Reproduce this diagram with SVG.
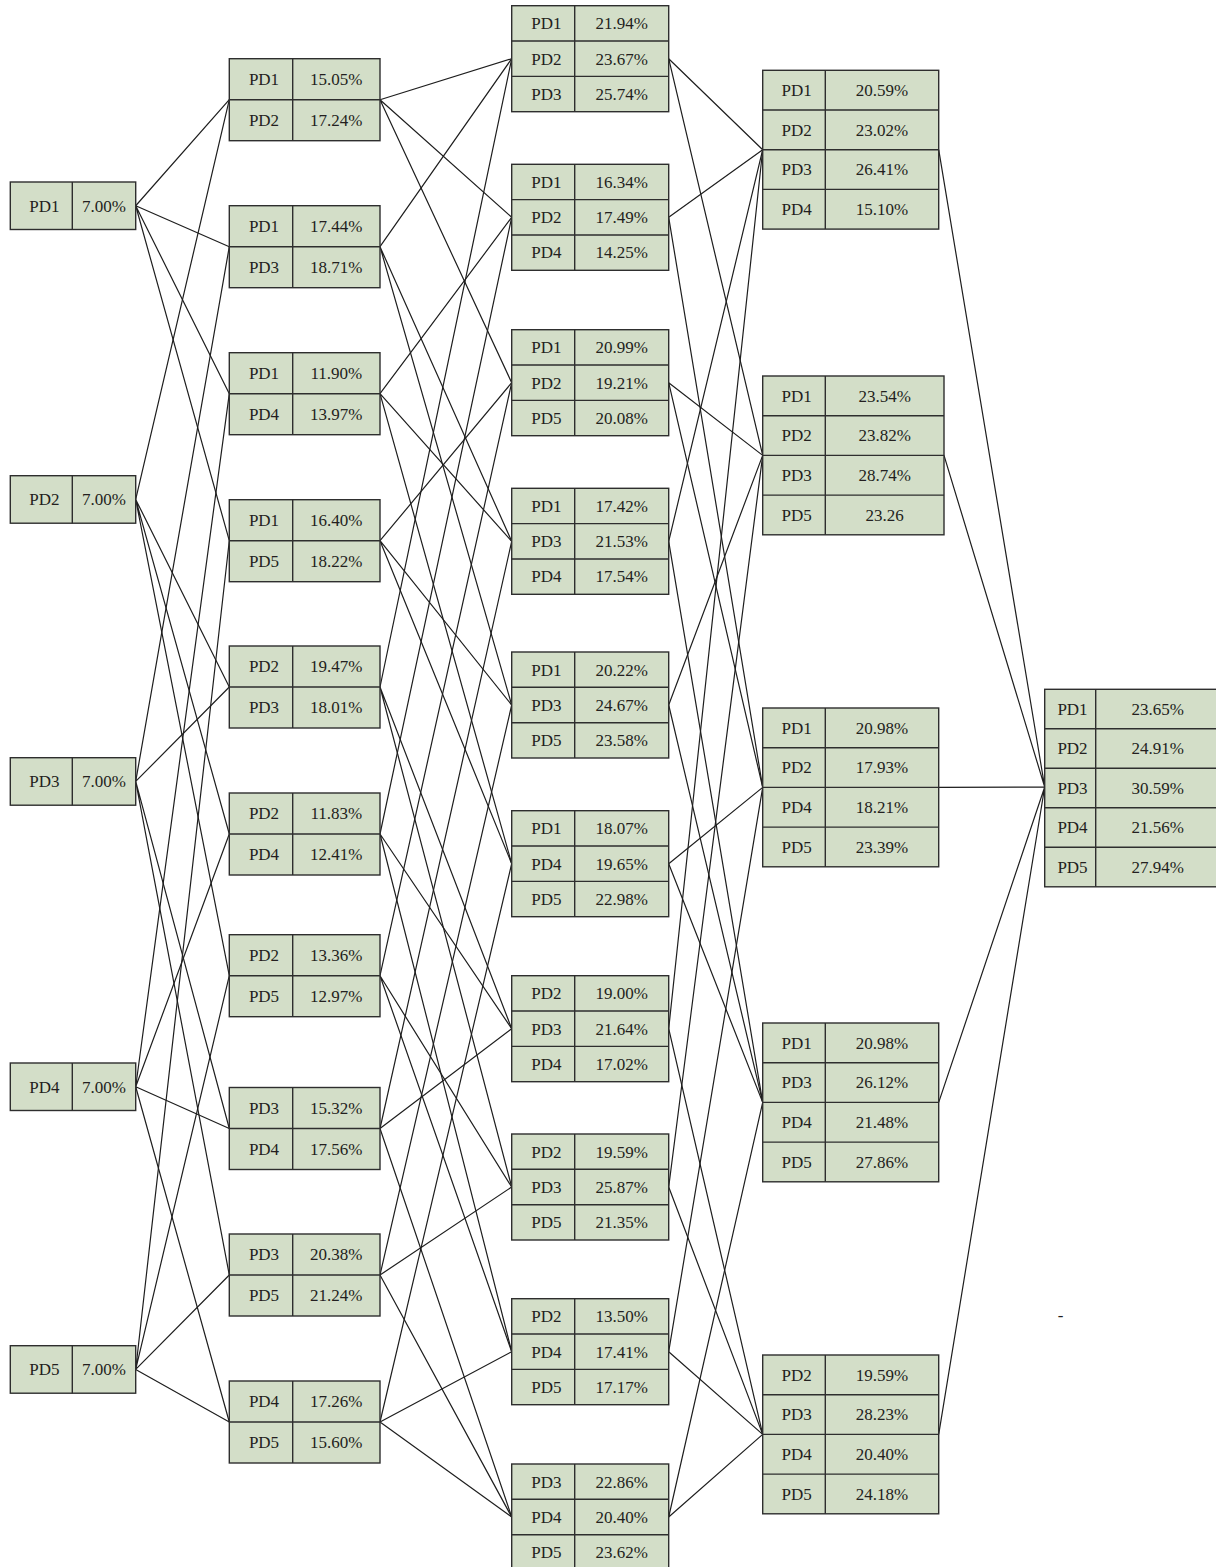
<svg xmlns="http://www.w3.org/2000/svg" width="1216" height="1567" viewBox="0 0 1216 1567">
<style>
.c{fill:#d3dec8;stroke:#2e2e2e;stroke-width:1.4}
.d{fill:none;stroke:#2e2e2e;stroke-width:1.4}
.e{fill:none;stroke:#1e1e1e;stroke-width:1.2}
text{font-family:"Liberation Serif","Times New Roman",serif;font-size:17px;fill:#231f20;text-anchor:middle}
</style>
<rect width="1216" height="1567" fill="#ffffff"/>
<g id="connectors" class="e">
<path d="M135.7 205.75L229.3 99.7M135.7 205.75L229.3 246.7M135.7 205.75L229.3 393.7M135.7 205.75L229.3 540.7"/>
<path d="M135.7 499.45L229.3 99.7M135.7 499.45L229.3 687M135.7 499.45L229.3 834M135.7 499.45L229.3 975.7"/>
<path d="M135.7 781.45L229.3 246.7M135.7 781.45L229.3 687M135.7 781.45L229.3 1128.5M135.7 781.45L229.3 1275"/>
<path d="M135.7 1086.75L229.3 393.7M135.7 1086.75L229.3 834M135.7 1086.75L229.3 1128.5M135.7 1086.75L229.3 1422"/>
<path d="M135.7 1369.45L229.3 540.7M135.7 1369.45L229.3 975.7M135.7 1369.45L229.3 1275M135.7 1369.45L229.3 1422"/>
<path d="M380 99.7L511.7 58.7M380 99.7L511.7 217.3M380 99.7L511.7 382.7"/>
<path d="M380 246.7L511.7 58.7M380 246.7L511.7 541.3M380 246.7L511.7 705"/>
<path d="M380 393.7L511.7 217.3M380 393.7L511.7 541.3M380 393.7L511.7 863.7"/>
<path d="M380 540.7L511.7 382.7M380 540.7L511.7 705M380 540.7L511.7 863.7"/>
<path d="M380 687L511.7 58.7M380 687L511.7 1028.7M380 687L511.7 1187"/>
<path d="M380 834L511.7 217.3M380 834L511.7 1028.7M380 834L511.7 1351.7"/>
<path d="M380 975.7L511.7 382.7M380 975.7L511.7 1187M380 975.7L511.7 1351.7"/>
<path d="M380 1128.5L511.7 541.3M380 1128.5L511.7 1028.7M380 1128.5L511.7 1517"/>
<path d="M380 1275L511.7 705M380 1275L511.7 1187M380 1275L511.7 1517"/>
<path d="M380 1422L511.7 863.7M380 1422L511.7 1351.7M380 1422L511.7 1517"/>
<path d="M668.7 58.7L762.7 149.7M668.7 58.7L762.7 455.4"/>
<path d="M668.7 217.3L762.7 149.7M668.7 217.3L762.7 787.4"/>
<path d="M668.7 382.7L762.7 455.4M668.7 382.7L762.7 787.4"/>
<path d="M668.7 541.3L762.7 149.7M668.7 541.3L762.7 1102.4"/>
<path d="M668.7 705L762.7 455.4M668.7 705L762.7 1102.4"/>
<path d="M668.7 863.7L762.7 787.4M668.7 863.7L762.7 1102.4"/>
<path d="M668.7 1028.7L762.7 149.7M668.7 1028.7L762.7 1434.4"/>
<path d="M668.7 1187L762.7 455.4M668.7 1187L762.7 1434.4"/>
<path d="M668.7 1351.7L762.7 787.4M668.7 1351.7L762.7 1434.4"/>
<path d="M668.7 1517L762.7 1102.4M668.7 1517L762.7 1434.4"/>
<path d="M938.7 149.7L1044.7 787M944 455.4L1044.7 787M938.7 787.4L1044.7 787M938.7 1102.4L1044.7 787M938.7 1434.4L1044.7 787"/>
</g>
<g id="s1-pd1"><rect class="c" x="10.3" y="182" width="125.4" height="47.5"/><path class="d" d="M72.3 182V229.5"/><text x="44.3" y="211.5">PD1</text><text x="104" y="211.5">7.00%</text></g>
<g id="s1-pd2"><rect class="c" x="10.3" y="475.7" width="125.4" height="47.5"/><path class="d" d="M72.3 475.7V523.2"/><text x="44.3" y="505.2">PD2</text><text x="104" y="505.2">7.00%</text></g>
<g id="s1-pd3"><rect class="c" x="10.3" y="757.7" width="125.4" height="47.5"/><path class="d" d="M72.3 757.7V805.2"/><text x="44.3" y="787.2">PD3</text><text x="104" y="787.2">7.00%</text></g>
<g id="s1-pd4"><rect class="c" x="10.3" y="1063" width="125.4" height="47.5"/><path class="d" d="M72.3 1063V1110.5"/><text x="44.3" y="1092.5">PD4</text><text x="104" y="1092.5">7.00%</text></g>
<g id="s1-pd5"><rect class="c" x="10.3" y="1345.7" width="125.4" height="47.5"/><path class="d" d="M72.3 1345.7V1393.2"/><text x="44.3" y="1375.2">PD5</text><text x="104" y="1375.2">7.00%</text></g>

<g id="s2-12"><rect class="c" x="229.3" y="58.7" width="150.7" height="82"/><path class="d" d="M292.7 58.7V140.7M229.3 99.7H380"/><text x="264" y="85">PD1</text><text x="336.3" y="85">15.05%</text><text x="264" y="126">PD2</text><text x="336.3" y="126">17.24%</text></g>
<g id="s2-13"><rect class="c" x="229.3" y="205.7" width="150.7" height="82"/><path class="d" d="M292.7 205.7V287.7M229.3 246.7H380"/><text x="264" y="232">PD1</text><text x="336.3" y="232">17.44%</text><text x="264" y="273">PD3</text><text x="336.3" y="273">18.71%</text></g>
<g id="s2-14"><rect class="c" x="229.3" y="352.7" width="150.7" height="82"/><path class="d" d="M292.7 352.7V434.7M229.3 393.7H380"/><text x="264" y="379">PD1</text><text x="336.3" y="379">11.90%</text><text x="264" y="420">PD4</text><text x="336.3" y="420">13.97%</text></g>
<g id="s2-15"><rect class="c" x="229.3" y="499.7" width="150.7" height="82"/><path class="d" d="M292.7 499.7V581.7M229.3 540.7H380"/><text x="264" y="526">PD1</text><text x="336.3" y="526">16.40%</text><text x="264" y="567">PD5</text><text x="336.3" y="567">18.22%</text></g>
<g id="s2-23"><rect class="c" x="229.3" y="646" width="150.7" height="82"/><path class="d" d="M292.7 646V728M229.3 687H380"/><text x="264" y="672.3">PD2</text><text x="336.3" y="672.3">19.47%</text><text x="264" y="713.3">PD3</text><text x="336.3" y="713.3">18.01%</text></g>
<g id="s2-24"><rect class="c" x="229.3" y="793" width="150.7" height="82"/><path class="d" d="M292.7 793V875M229.3 834H380"/><text x="264" y="819.3">PD2</text><text x="336.3" y="819.3">11.83%</text><text x="264" y="860.3">PD4</text><text x="336.3" y="860.3">12.41%</text></g>
<g id="s2-25"><rect class="c" x="229.3" y="934.7" width="150.7" height="82"/><path class="d" d="M292.7 934.7V1016.7M229.3 975.7H380"/><text x="264" y="961">PD2</text><text x="336.3" y="961">13.36%</text><text x="264" y="1002">PD5</text><text x="336.3" y="1002">12.97%</text></g>
<g id="s2-34"><rect class="c" x="229.3" y="1087.5" width="150.7" height="82"/><path class="d" d="M292.7 1087.5V1169.5M229.3 1128.5H380"/><text x="264" y="1113.8">PD3</text><text x="336.3" y="1113.8">15.32%</text><text x="264" y="1154.8">PD4</text><text x="336.3" y="1154.8">17.56%</text></g>
<g id="s2-35"><rect class="c" x="229.3" y="1234" width="150.7" height="82"/><path class="d" d="M292.7 1234V1316M229.3 1275H380"/><text x="264" y="1260.3">PD3</text><text x="336.3" y="1260.3">20.38%</text><text x="264" y="1301.3">PD5</text><text x="336.3" y="1301.3">21.24%</text></g>
<g id="s2-45"><rect class="c" x="229.3" y="1381" width="150.7" height="82"/><path class="d" d="M292.7 1381V1463M229.3 1422H380"/><text x="264" y="1407.3">PD4</text><text x="336.3" y="1407.3">17.26%</text><text x="264" y="1448.3">PD5</text><text x="336.3" y="1448.3">15.60%</text></g>

<g id="s3-123"><rect class="c" x="511.7" y="5.7" width="157" height="106"/><path class="d" d="M574.7 5.7V111.7M511.7 41H668.7M511.7 76.4H668.7"/><text x="546.3" y="29.2">PD1</text><text x="621.7" y="29.2">21.94%</text><text x="546.3" y="64.5">PD2</text><text x="621.7" y="64.5">23.67%</text><text x="546.3" y="99.8">PD3</text><text x="621.7" y="99.8">25.74%</text></g>
<g id="s3-124"><rect class="c" x="511.7" y="164.3" width="157" height="106"/><path class="d" d="M574.7 164.3V270.3M511.7 199.6H668.7M511.7 235H668.7"/><text x="546.3" y="187.8">PD1</text><text x="621.7" y="187.8">16.34%</text><text x="546.3" y="223.1">PD2</text><text x="621.7" y="223.1">17.49%</text><text x="546.3" y="258.4">PD4</text><text x="621.7" y="258.4">14.25%</text></g>
<g id="s3-125"><rect class="c" x="511.7" y="329.7" width="157" height="106"/><path class="d" d="M574.7 329.7V435.7M511.7 365H668.7M511.7 400.4H668.7"/><text x="546.3" y="353.2">PD1</text><text x="621.7" y="353.2">20.99%</text><text x="546.3" y="388.5">PD2</text><text x="621.7" y="388.5">19.21%</text><text x="546.3" y="423.8">PD5</text><text x="621.7" y="423.8">20.08%</text></g>
<g id="s3-134"><rect class="c" x="511.7" y="488.3" width="157" height="106"/><path class="d" d="M574.7 488.3V594.3M511.7 523.6H668.7M511.7 559H668.7"/><text x="546.3" y="511.8">PD1</text><text x="621.7" y="511.8">17.42%</text><text x="546.3" y="547.1">PD3</text><text x="621.7" y="547.1">21.53%</text><text x="546.3" y="582.4">PD4</text><text x="621.7" y="582.4">17.54%</text></g>
<g id="s3-135"><rect class="c" x="511.7" y="652" width="157" height="106"/><path class="d" d="M574.7 652V758M511.7 687.3H668.7M511.7 722.7H668.7"/><text x="546.3" y="675.5">PD1</text><text x="621.7" y="675.5">20.22%</text><text x="546.3" y="710.8">PD3</text><text x="621.7" y="710.8">24.67%</text><text x="546.3" y="746.1">PD5</text><text x="621.7" y="746.1">23.58%</text></g>
<g id="s3-145"><rect class="c" x="511.7" y="810.7" width="157" height="106"/><path class="d" d="M574.7 810.7V916.7M511.7 846H668.7M511.7 881.4H668.7"/><text x="546.3" y="834.2">PD1</text><text x="621.7" y="834.2">18.07%</text><text x="546.3" y="869.5">PD4</text><text x="621.7" y="869.5">19.65%</text><text x="546.3" y="904.8">PD5</text><text x="621.7" y="904.8">22.98%</text></g>
<g id="s3-234"><rect class="c" x="511.7" y="975.7" width="157" height="106"/><path class="d" d="M574.7 975.7V1081.7M511.7 1011H668.7M511.7 1046.4H668.7"/><text x="546.3" y="999.2">PD2</text><text x="621.7" y="999.2">19.00%</text><text x="546.3" y="1034.5">PD3</text><text x="621.7" y="1034.5">21.64%</text><text x="546.3" y="1069.8">PD4</text><text x="621.7" y="1069.8">17.02%</text></g>
<g id="s3-235"><rect class="c" x="511.7" y="1134" width="157" height="106"/><path class="d" d="M574.7 1134V1240M511.7 1169.3H668.7M511.7 1204.7H668.7"/><text x="546.3" y="1157.5">PD2</text><text x="621.7" y="1157.5">19.59%</text><text x="546.3" y="1192.8">PD3</text><text x="621.7" y="1192.8">25.87%</text><text x="546.3" y="1228.1">PD5</text><text x="621.7" y="1228.1">21.35%</text></g>
<g id="s3-245"><rect class="c" x="511.7" y="1298.7" width="157" height="106"/><path class="d" d="M574.7 1298.7V1404.7M511.7 1334H668.7M511.7 1369.4H668.7"/><text x="546.3" y="1322.2">PD2</text><text x="621.7" y="1322.2">13.50%</text><text x="546.3" y="1357.5">PD4</text><text x="621.7" y="1357.5">17.41%</text><text x="546.3" y="1392.8">PD5</text><text x="621.7" y="1392.8">17.17%</text></g>
<g id="s3-345"><rect class="c" x="511.7" y="1464" width="157" height="106"/><path class="d" d="M574.7 1464V1570M511.7 1499.3H668.7M511.7 1534.7H668.7"/><text x="546.3" y="1487.5">PD3</text><text x="621.7" y="1487.5">22.86%</text><text x="546.3" y="1522.8">PD4</text><text x="621.7" y="1522.8">20.40%</text><text x="546.3" y="1558.1">PD5</text><text x="621.7" y="1558.1">23.62%</text></g>

<g id="s4-1234"><rect class="c" x="762.7" y="70.3" width="176" height="158.8"/><path class="d" d="M825.3 70.3V229.1M762.7 110H938.7M762.7 149.7H938.7M762.7 189.4H938.7"/><text x="796.7" y="95.9">PD1</text><text x="882" y="95.9">20.59%</text><text x="796.7" y="135.6">PD2</text><text x="882" y="135.6">23.02%</text><text x="796.7" y="175.3">PD3</text><text x="882" y="175.3">26.41%</text><text x="796.7" y="215">PD4</text><text x="882" y="215">15.10%</text></g>
<g id="s4-1235"><rect class="c" x="762.7" y="376" width="181.3" height="158.8"/><path class="d" d="M825.3 376V534.8M762.7 415.7H944M762.7 455.4H944M762.7 495.1H944"/><text x="796.7" y="401.6">PD1</text><text x="884.7" y="401.6">23.54%</text><text x="796.7" y="441.3">PD2</text><text x="884.7" y="441.3">23.82%</text><text x="796.7" y="481">PD3</text><text x="884.7" y="481">28.74%</text><text x="796.7" y="520.7">PD5</text><text x="884.7" y="520.7">23.26</text></g>
<g id="s4-1245"><rect class="c" x="762.7" y="708" width="176" height="158.8"/><path class="d" d="M825.3 708V866.8M762.7 747.7H938.7M762.7 787.4H938.7M762.7 827.1H938.7"/><text x="796.7" y="733.6">PD1</text><text x="882" y="733.6">20.98%</text><text x="796.7" y="773.3">PD2</text><text x="882" y="773.3">17.93%</text><text x="796.7" y="813">PD4</text><text x="882" y="813">18.21%</text><text x="796.7" y="852.7">PD5</text><text x="882" y="852.7">23.39%</text></g>
<g id="s4-1345"><rect class="c" x="762.7" y="1023" width="176" height="158.8"/><path class="d" d="M825.3 1023V1181.8M762.7 1062.7H938.7M762.7 1102.4H938.7M762.7 1142.1H938.7"/><text x="796.7" y="1048.6">PD1</text><text x="882" y="1048.6">20.98%</text><text x="796.7" y="1088.3">PD3</text><text x="882" y="1088.3">26.12%</text><text x="796.7" y="1128">PD4</text><text x="882" y="1128">21.48%</text><text x="796.7" y="1167.7">PD5</text><text x="882" y="1167.7">27.86%</text></g>
<g id="s4-2345"><rect class="c" x="762.7" y="1355" width="176" height="158.8"/><path class="d" d="M825.3 1355V1513.8M762.7 1394.7H938.7M762.7 1434.4H938.7M762.7 1474.1H938.7"/><text x="796.7" y="1380.6">PD2</text><text x="882" y="1380.6">19.59%</text><text x="796.7" y="1420.3">PD3</text><text x="882" y="1420.3">28.23%</text><text x="796.7" y="1460">PD4</text><text x="882" y="1460">20.40%</text><text x="796.7" y="1499.7">PD5</text><text x="882" y="1499.7">24.18%</text></g>

<g id="s5-12345"><rect class="c" x="1044.7" y="689.3" width="175.3" height="197.5"/><path class="d" d="M1095.7 689.3V886.8M1044.7 728.8H1220M1044.7 768.3H1220M1044.7 807.8H1220M1044.7 847.3H1220"/><text x="1072.5" y="714.8">PD1</text><text x="1157.8" y="714.8">23.65%</text><text x="1072.5" y="754.3">PD2</text><text x="1157.8" y="754.3">24.91%</text><text x="1072.5" y="793.8">PD3</text><text x="1157.8" y="793.8">30.59%</text><text x="1072.5" y="833.3">PD4</text><text x="1157.8" y="833.3">21.56%</text><text x="1072.5" y="872.8">PD5</text><text x="1157.8" y="872.8">27.94%</text></g>
<text x="1060.5" y="1320.5">-</text>
</svg>
